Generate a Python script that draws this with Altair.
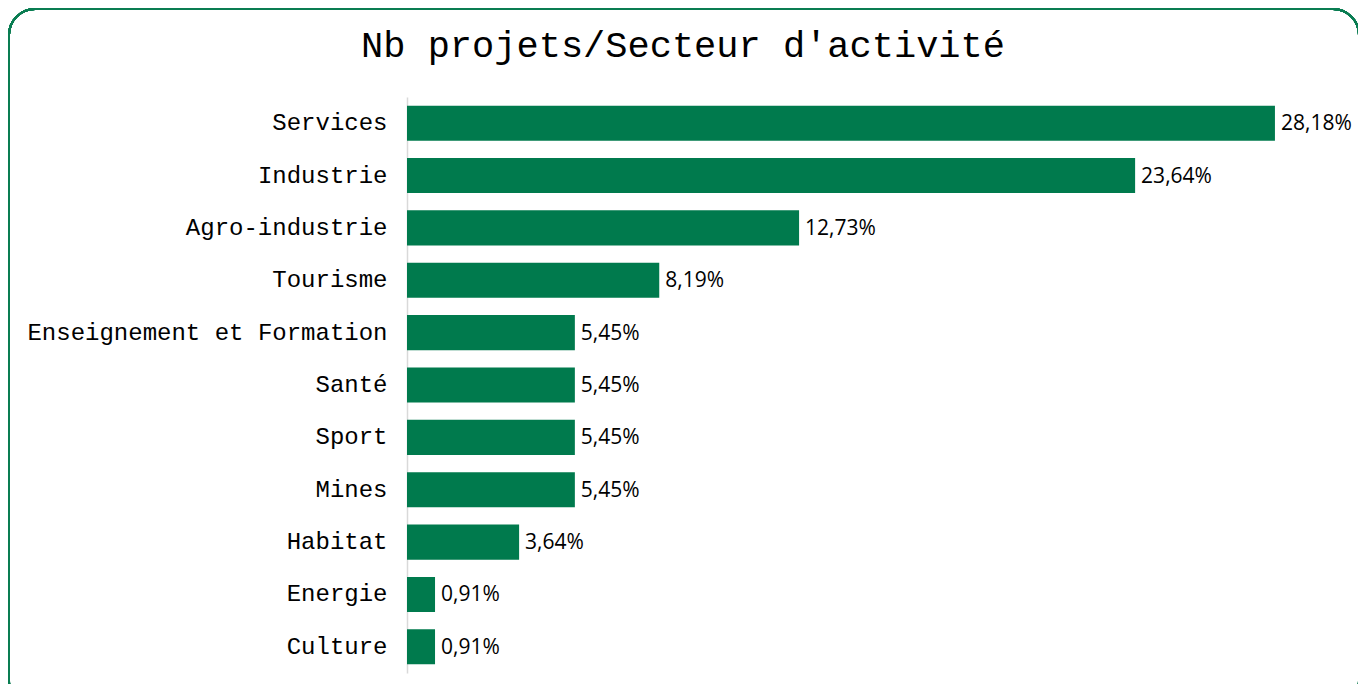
import altair as alt
import pandas as pd

categories = ["Services", "Industrie", "Agro-industrie", "Tourisme",
              "Enseignement et Formation", "Santé", "Sport", "Mines",
              "Habitat", "Energie", "Culture"]
values = [28.18, 23.64, 12.73, 8.19, 5.45, 5.45, 5.45, 5.45, 3.64, 0.91, 0.91]
labels = [f"{v:.2f}".replace(".", ",") + "%" for v in values]

df = pd.DataFrame({"cat": categories, "val": values, "lab": labels})

GREEN = "#007a4d"
MONO = "Liberation Mono"

y_enc = alt.Y("cat:N", sort=categories,
              scale=alt.Scale(paddingInner=0.33, paddingOuter=0.165),
              axis=alt.Axis(title=None, ticks=False, labelPadding=20,
                            labelFont=MONO, labelFontSize=24,
                            labelColor="#000000", domainColor="#d9d9d9",
                            domainWidth=1.5, labelLimit=500))
x_enc = alt.X("val:Q", scale=alt.Scale(domain=[0, 30], nice=False), axis=None)

bars = alt.Chart(df).mark_bar(color=GREEN).encode(y=y_enc, x=x_enc)
text = alt.Chart(df).mark_text(align="left", baseline="middle", dx=6, dy=1,
                               font="Open Sans", fontSize=21,
                               color="#000000").encode(y=y_enc, x=x_enc,
                                                       text="lab:N")
frame = alt.Chart(df).mark_rect(filled=False, stroke="#0a7d52",
                                strokeWidth=2, cornerRadius=26).encode(
    x=alt.value(-398), x2=alt.value(952),
    y=alt.value(-88), y2=alt.value(610))

chart = alt.layer(frame, bars, text).properties(
    width=924, height=576,
    background="#ffffff",
    title=alt.TitleParams("Nb projets/Secteur d'activité",
                          font=MONO, fontSize=37,
                          fontWeight="normal", color="#000000",
                          anchor="middle", frame="group", dx=-186,
                          baseline="alphabetic", offset=-86),
    autosize=alt.AutoSizeParams(type="none"),
    padding={"left": 399, "top": 89, "right": 27, "bottom": 11},
).configure_view(strokeWidth=0, stroke="transparent")

chart.save("out.html", embed_options={"renderer": "svg", "actions": False})
